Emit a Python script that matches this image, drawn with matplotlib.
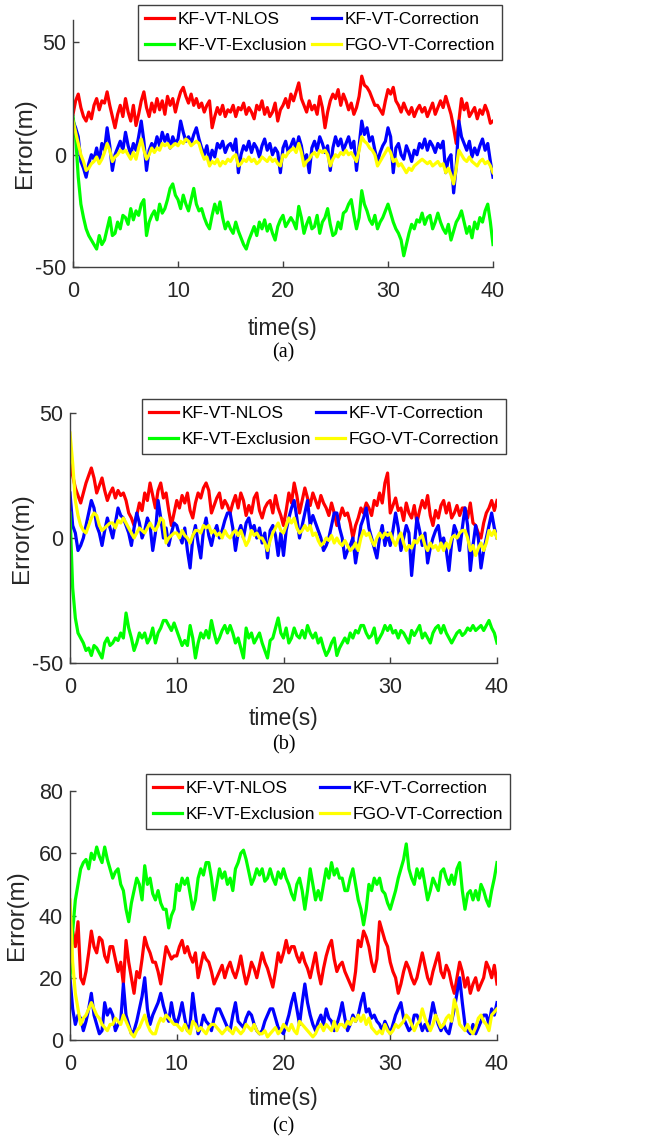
import numpy as np
import matplotlib
matplotlib.use("Agg")
import matplotlib.pyplot as plt

plt.rcParams['font.family'] = ['Liberation Sans', 'DejaVu Sans']
plt.rcParams['axes.unicode_minus'] = False

# time axis: 0 .. 40 s, every 0.25 s
time_s = np.arange(161) * 0.25

labels = ["KF-VT-NLOS", "KF-VT-Correction", "KF-VT-Exclusion", "FGO-VT-Correction"]
colors = ["#FF0000", "#0000FF", "#00FF00", "#FFFF00"]
panel_tags = ["(a)", "(b)", "(c)"]

# ---------------- panel (a) ----------------
a_nlos = [18, 24, 27, 21, 17, 15, 19, 16, 22, 25, 20, 24, 23, 28, 22, 17, 12, 18, 22, 17,
          25, 19, 15, 22, 13, 18, 24, 28, 21, 17, 23, 19, 25, 20, 24, 18, 26, 22, 25, 19,
          24, 28, 30, 26, 23, 27, 22, 25, 21, 23, 19, 22, 24, 12, 17, 21, 18, 22, 17, 20,
          19, 22, 17, 21, 20, 23, 18, 21, 19, 16, 22, 20, 24, 18, 21, 17, 19, 23, 15, 20,
          22, 25, 21, 27, 24, 28, 32, 25, 22, 19, 24, 20, 22, 18, 26, 21, 12, 19, 24, 27,
          25, 29, 22, 27, 24, 20, 23, 18, 21, 26, 35, 31, 30, 28, 25, 22, 22, 20, 18, 24,
          29, 27, 30, 24, 22, 19, 23, 20, 18, 21, 17, 20, 22, 19, 21, 17, 20, 23, 18, 21,
          24, 21, 26, 22, 18, 12, 5, 15, 25, 20, 23, 17, 19, 21, 16, 20, 18, 22, 19, 14,
          15]
a_corr = [15, 12, 8, -3, -6, -10, -4, 0, -2, 3, -3, 5, 2, 12, 4, -7, 0, 3, 6, 2,
          10, 4, 0, 5, 2, 8, 15, 6, -7, 2, 5, 3, 8, 4, 10, 6, 9, 3, 8, 5,
          7, 15, 10, 6, 8, 5, 9, 12, 7, 3, 0, 4, -3, 2, -1, 5, 3, 6, 1, 4,
          5, 2, 7, -8, 0, 4, 2, 6, 1, 5, 3, -1, 4, 7, 2, 5, 0, 3, 1, -8,
          3, 6, 1, 4, 7, 2, 8, 4, -3, 0, -8, 3, 6, 2, 8, 5, 1, 4, -7, 3,
          8, 4, 7, 2, 5, 8, 3, 6, -7, 4, 15, 9, 12, 6, 8, 2, -3, 1, 4, 6,
          12, 8, -8, 3, 5, 0, -2, 4, 1, -3, 2, 0, 5, 3, 7, 2, 6, 4, 1, 5,
          3, 6, -8, -2, 0, -17, -5, 15, 8, 5, 2, 6, -1, 3, 0, 4, 7, 2, 5, -3,
          -10]
a_excl = [17, 8, -10, -22, -28, -33, -36, -38, -40, -42, -36, -40, -38, -33, -28, -36, -35, -30, -33, -27,
          -28, -31, -24, -29, -25, -27, -22, -20, -36, -30, -27, -25, -29, -22, -26, -24, -20, -15, -13, -18,
          -20, -24, -18, -22, -25, -20, -15, -22, -25, -24, -28, -31, -33, -27, -22, -26, -21, -28, -33, -30,
          -33, -35, -30, -34, -37, -40, -42, -38, -35, -32, -36, -30, -33, -29, -34, -31, -35, -38, -32, -29,
          -27, -32, -30, -28, -30, -33, -23, -28, -35, -31, -28, -33, -32, -27, -35, -30, -28, -24, -31, -36,
          -35, -30, -33, -26, -25, -22, -20, -27, -33, -28, -16, -22, -25, -29, -31, -27, -33, -30, -28, -25,
          -22, -26, -30, -33, -35, -38, -45, -40, -35, -31, -33, -29, -30, -26, -31, -28, -27, -33, -30, -26,
          -30, -33, -35, -31, -38, -34, -30, -28, -25, -30, -35, -32, -37, -30, -33, -28, -30, -25, -22, -30,
          -40]
a_fgo = [15, 10, 5, 0, -3, -7, -6, -4, -3, -1, -4, -2, 1, 5, 2, -3, -1, 0, 2, 1,
         2, 0, -2, 1, -2, 3, 7, 2, -2, 0, 3, 1, 3, 2, 5, 4, 5, 3, 4, 5,
         4, 6, 5, 7, 6, 4, 5, 6, 5, 1, -2, -1, -5, -3, -4, -2, -5, -3, -4, -2,
         -3, -1, 0, -5, -4, -2, -3, -1, -3, -2, -4, -3, -1, -2, -3, -1, -3, -2, -4, -5,
         0, -1, 1, 2, 3, 1, 5, 1, -5, -3, -2, 0, 1, -1, 2, 1, 2, 0, -5, -2,
         0, -1, 1, 0, 2, 0, 1, -1, -3, 2, 8, 6, 5, 3, 2, 0, -5, -3, -1, 1,
         3, 1, -3, -2, -5, -4, -6, -8, -6, -7, -5, -4, -3, -2, -3, -4, -3, -5, -4, -3,
         -5, -4, -8, -6, -9, -13, -6, 2, 0, -2, -3, -1, -3, -4, -5, -3, -2, -4, -3, -5,
         -8]

# ---------------- panel (b) ----------------
b_nlos = [30, 25, 20, 17, 14, 18, 22, 25, 28, 24, 18, 21, 24, 19, 15, 18, 20, 16, 19, 17,
          18, 15, 10, 8, 5, 9, 14, 11, 18, 15, 22, 17, 12, 19, 22, 16, 18, 11, 5, 10,
          15, 12, 17, 14, 18, 11, 8, 14, 18, 16, 20, 22, 19, 10, 13, 16, 18, 12, 15, 13,
          10, 14, 17, 12, 18, 15, 9, 13, 10, 16, 18, 11, 8, 12, 14, 15, 10, 17, 12, 9,
          5, 11, 18, 14, 22, 17, 10, 15, 20, 16, 13, 18, 15, 12, 17, 14, 12, 9, 14, 10,
          5, 8, 12, 9, 10, 6, 0, 5, 8, 12, 10, 14, 12, 9, 15, 13, 18, 14, 22, 26,
          10, 13, 16, 11, 12, 7, 14, 10, 8, 13, 6, 11, 15, 12, 17, 9, 5, 11, 8, 13,
          15, 10, 14, 8, 10, 13, 9, 12, 12, 8, 14, 6, 5, 2, 0, 6, 10, 12, 15, 11,
          15]
b_corr = [18, 5, 2, -5, -3, 0, 5, 10, 15, 12, 5, 2, -3, 3, 8, 4, 0, 6, 12, 9,
          8, 5, 2, -3, 4, 10, 6, 0, 3, 8, 5, -5, 2, 15, 8, 0, 4, -3, 2, 6,
          5, 1, -2, 4, -5, -12, 0, 5, -2, -8, 3, 8, 1, -3, 2, 5, 0, 3, 7, 10,
          10, 4, -5, 2, 5, 0, 6, 8, 3, 5, 0, 4, -2, 2, -8, 3, 5, 1, -7, 2,
          -7, 3, 8, 12, 15, 8, 0, 5, 10, 15, 5, 9, 6, 3, 0, -5, -3, 0, 5, 10,
          10, 4, 0, -8, -5, -3, 0, -10, -3, 5, 8, 12, 4, 0, -4, -8, 0, 5, -3, 2,
          -3, 3, 10, 4, -5, 0, 5, 2, -15, -3, 8, 3, -3, 2, -10, -4, 0, 3, 5, -2,
          0, -5, -13, -2, 5, 2, -5, 4, 12, 5, -13, -3, 5, 0, -12, -5, 0, 5, 10, 4,
          0]
b_excl = [10, -20, -32, -38, -40, -42, -45, -44, -47, -43, -44, -46, -48, -42, -40, -43, -42, -40, -41, -38,
          -40, -30, -36, -40, -45, -42, -38, -40, -38, -42, -40, -36, -42, -38, -36, -33, -33, -35, -37, -34,
          -37, -40, -43, -41, -43, -35, -40, -48, -42, -38, -40, -37, -40, -33, -38, -42, -40, -37, -35, -38,
          -35, -38, -42, -40, -44, -48, -36, -40, -38, -42, -40, -38, -42, -45, -48, -41, -40, -36, -32, -38,
          -40, -36, -42, -40, -36, -39, -40, -37, -40, -35, -38, -40, -38, -42, -40, -44, -47, -45, -42, -40,
          -47, -44, -42, -40, -42, -38, -40, -37, -38, -35, -35, -38, -40, -39, -36, -42, -40, -38, -35, -37,
          -35, -38, -37, -40, -37, -38, -40, -42, -37, -39, -37, -35, -40, -38, -40, -42, -38, -36, -35, -38,
          -35, -38, -40, -42, -40, -38, -37, -39, -38, -36, -37, -35, -37, -36, -35, -37, -35, -33, -36, -38,
          -42]
b_fgo = [42, 30, 15, 9, 5, 3, 2, 5, 8, 10, 9, 5, 3, 4, 5, 6, 6, 4, 7, 6,
         8, 6, 4, 2, 0, 2, 4, 3, 2, 4, 6, 4, 3, 5, 8, 7, -2, 0, 1, 2,
         2, 0, 3, 1, 0, -2, 1, 3, 3, 2, 5, 4, 5, 2, 3, 1, 2, 0, 3, 1,
         0, 2, 3, 1, 3, 0, -3, -1, 3, 1, 2, 0, 0, -2, -5, -1, 2, 4, 6, 3,
         2, 5, 8, 6, 8, 4, 2, 3, 5, 3, 5, 1, 2, -1, -3, -2, 0, -1, 1, -2,
         0, -2, -3, -1, -3, -5, -4, -2, -5, 0, 3, 1, 2, -1, -3, 0, 2, 0, 2, 1,
         2, -1, -3, 0, 2, -2, -5, -3, -4, -1, -2, 0, 1, -3, -5, -2, -4, -3, -5, -2,
         -5, -2, -4, 0, 1, 0, 2, 3, 3, 0, -5, -3, -7, -4, -2, -5, -2, 3, 1, 3,
         0]

# ---------------- panel (c) ----------------
c_nlos = [25, 35, 30, 38, 20, 18, 22, 28, 35, 30, 28, 33, 32, 27, 25, 30, 30, 26, 22, 25,
          18, 32, 25, 20, 15, 22, 20, 26, 33, 30, 28, 25, 25, 22, 18, 24, 30, 28, 26, 27,
          27, 30, 32, 28, 30, 27, 25, 28, 20, 24, 28, 26, 25, 22, 18, 20, 22, 24, 20, 23,
          25, 22, 20, 23, 27, 22, 18, 21, 25, 23, 20, 24, 28, 25, 23, 20, 17, 22, 28, 25,
          28, 32, 28, 30, 30, 27, 25, 28, 25, 23, 20, 24, 28, 22, 18, 23, 27, 30, 32, 26,
          22, 24, 25, 22, 20, 18, 16, 22, 32, 30, 35, 33, 30, 25, 22, 26, 38, 35, 32, 30,
          25, 22, 20, 15, 18, 22, 25, 23, 20, 18, 20, 24, 28, 24, 20, 18, 22, 25, 28, 22,
          20, 24, 22, 18, 15, 20, 25, 22, 17, 20, 15, 18, 20, 16, 18, 20, 25, 23, 20, 24,
          18]
c_corr = [20, 10, 5, 8, 7, 3, 6, 10, 15, 8, 5, 2, 3, 12, 8, 10, 8, 3, 5, 6,
          18, 8, 5, 2, 3, 6, 10, 14, 20, 10, 5, 8, 10, 12, 15, 11, 8, 6, 12, 7,
          5, 8, 12, 7, 3, 5, 15, 8, 2, 4, 8, 6, 5, 3, 7, 10, 10, 8, 6, 4,
          3, 8, 12, 6, 5, 4, 7, 9, 8, 5, 3, 2, 3, 6, 8, 10, 10, 7, 4, 3,
          2, 5, 8, 12, 15, 10, 5, 12, 18, 12, 8, 5, 3, 6, 8, 5, 10, 7, 6, 3,
          5, 8, 12, 7, 3, 5, 8, 6, 8, 12, 15, 9, 10, 7, 8, 6, 5, 3, 6, 4,
          2, 5, 8, 10, 12, 7, 5, 3, 4, 8, 8, 6, 3, 5, 3, 7, 12, 8, 5, 3,
          5, 3, 2, 6, 10, 15, 20, 12, 5, 3, 2, 5, 2, 4, 6, 8, 8, 5, 10, 8,
          12]
c_excl = [20, 35, 45, 50, 55, 57, 58, 55, 60, 58, 62, 59, 57, 62, 58, 55, 52, 54, 55, 50,
          48, 42, 38, 44, 48, 52, 50, 45, 56, 50, 52, 47, 45, 48, 44, 42, 42, 36, 40, 42,
          50, 48, 52, 50, 52, 47, 42, 45, 52, 55, 53, 57, 57, 52, 45, 50, 55, 52, 54, 50,
          52, 48, 55, 57, 60, 61, 58, 54, 50, 52, 55, 53, 55, 51, 52, 55, 52, 50, 54, 52,
          55, 52, 50, 47, 45, 50, 52, 48, 42, 48, 55, 50, 45, 48, 45, 50, 55, 52, 57, 53,
          55, 52, 52, 48, 48, 52, 55, 50, 45, 42, 37, 42, 50, 48, 52, 50, 52, 48, 47, 44,
          42, 45, 48, 52, 55, 58, 63, 55, 52, 50, 55, 52, 55, 50, 45, 48, 52, 50, 48, 54,
          55, 52, 50, 53, 50, 55, 57, 48, 42, 47, 48, 45, 48, 45, 50, 48, 45, 43, 48, 52,
          57]
c_fgo = [45, 25, 15, 10, 5, 7, 8, 10, 12, 10, 8, 7, 5, 4, 3, 5, 5, 7, 6, 5,
         8, 6, 4, 2, 1, 3, 4, 6, 8, 5, 3, 2, 2, 5, 7, 6, 8, 7, 6, 5,
         5, 4, 3, 5, 3, 2, 6, 5, 3, 4, 3, 2, 4, 5, 5, 4, 3, 2, 3, 4,
         3, 2, 4, 3, 2, 3, 5, 4, 3, 5, 3, 2, 2, 3, 1, 2, 3, 4, 2, 3,
         5, 4, 3, 5, 3, 2, 6, 5, 4, 3, 2, 1, 2, 4, 5, 3, 5, 4, 3, 6,
         3, 5, 5, 4, 6, 5, 7, 6, 8, 6, 8, 5, 7, 4, 3, 2, 3, 2, 5, 3,
         2, 3, 5, 4, 5, 6, 8, 7, 5, 3, 5, 6, 10, 7, 5, 3, 5, 8, 6, 4,
         5, 7, 8, 6, 13, 10, 5, 4, 3, 5, 3, 2, 4, 7, 8, 6, 5, 3, 8, 9,
         10]

panels = [
    dict(series=[a_nlos, a_corr, a_excl, a_fgo], ylim=(-50, 60), yticks=[-50, 0, 50]),
    dict(series=[b_nlos, b_corr, b_excl, b_fgo], ylim=(-50, 50), yticks=[-50, 0, 50]),
    dict(series=[c_nlos, c_corr, c_excl, c_fgo], ylim=(0, 80), yticks=[0, 20, 40, 60, 80]),
]

W, H = 647, 1142
fig = plt.figure(figsize=(W / 100, H / 100), dpi=100)

# layout in pixels: (left, right, top, bottom) of each axes
boxes = [(73, 493, 20, 267), (70, 497, 413, 663), (70, 497, 791, 1040)]
legend_anchor = [(502, 5), (506, 399), (510, 774)]
xlabel_y = [329, 718, 1098]
tag_y = [353, 745, 1127]
ylabel_x = [25, 22, 17]

axcol = '#404040'
for i, p in enumerate(panels):
    l, r, t, b = boxes[i]
    ax = fig.add_axes([l / W, 1 - b / H, (r - l) / W, (b - t) / H])
    lines = []
    for s, c, lab in zip(p['series'], colors, labels):
        ln, = ax.plot(time_s, s, color=c, lw=2.3, label=lab)
        lines.append(ln)
    ax.set_xlim(0, 40)
    ax.set_ylim(*p['ylim'])
    ax.set_xticks([0, 10, 20, 30, 40])
    ax.set_yticks(p['yticks'])
    for side in ['top', 'right']:
        ax.spines[side].set_visible(False)
    for side in ['left', 'bottom']:
        ax.spines[side].set_color(axcol)
        ax.spines[side].set_linewidth(1.0)
    ax.tick_params(direction='in', length=4, width=1.0, colors=axcol, labelcolor='#262626',
                   labelsize=15.5)
    ax.tick_params(axis='x', pad=10)
    ax.tick_params(axis='y', pad=5)
    ax.set_ylabel('Error(m)', fontsize=17.5, color='#262626')
    ax.yaxis.set_label_coords(ylabel_x[i] / W, 1 - ((t + b) / 2) / H, transform=fig.transFigure)
    ax.yaxis.label.set_va('center')
    ax.set_xlabel('time(s)', fontsize=16.5, color='#262626')
    ax.xaxis.set_label_coords(((l + r) / 2) / W, 1 - xlabel_y[i] / H, transform=fig.transFigure)
    ax.xaxis.label.set_va('center')
    fig.text(((l + r) / 2) / W, 1 - tag_y[i] / H, panel_tags[i], ha='center', va='center',
             fontsize=14.5, family=['Liberation Serif', 'DejaVu Serif'])
    order = [0, 2, 1, 3]
    ax_x, ax_y = legend_anchor[i]
    leg = ax.legend([lines[k] for k in order], [labels[k] for k in order], ncol=2,
                    loc='upper right', bbox_to_anchor=(ax_x / W, 1 - ax_y / H),
                    bbox_transform=fig.transFigure, borderaxespad=0, fontsize=12.5,
                    frameon=True, fancybox=False, edgecolor=axcol, framealpha=1,
                    handlelength=1.65, handletextpad=0.2, columnspacing=0.3,
                    labelspacing=0.6, borderpad=0.42)
    leg.get_frame().set_linewidth(1.0)
    for h in leg.legend_handles:
        h.set_linewidth(2.3)

fig.savefig('out.png', dpi=100)
